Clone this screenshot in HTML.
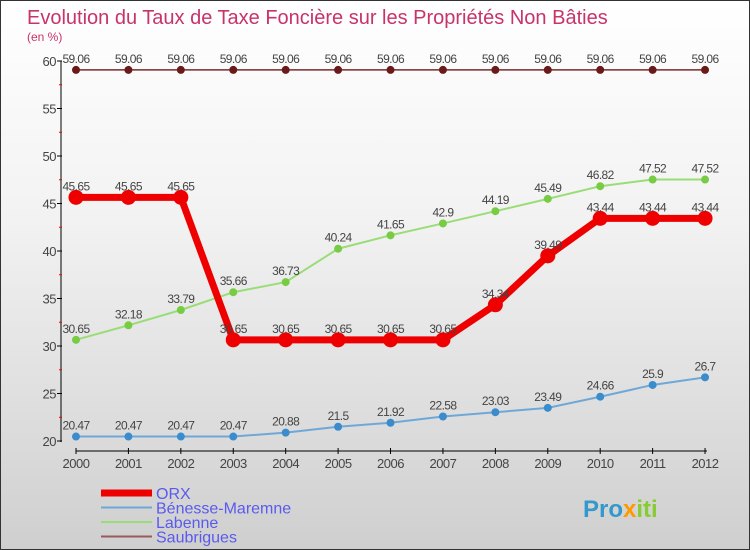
<!DOCTYPE html>
<html><head><meta charset="utf-8"><style>
body{margin:0}
#c{position:relative;width:748px;height:548px;border:1px solid #333;background:linear-gradient(#fff,#f2f2f2 40%,#cfcfcf);font-family:"Liberation Sans",sans-serif;overflow:hidden}
svg{position:absolute;left:0;top:0}
</style></head><body>
<div id="c">
<svg id="s" width="750" height="550"></svg>
</div>
<script>
const years=[2000,2001,2002,2003,2004,2005,2006,2007,2008,2009,2010,2011,2012];
const yTicks=[20,25,30,35,40,45,50,55,60];
const orx=[45.65,45.65,45.65,30.65,30.65,30.65,30.65,30.65,34.34,39.49,43.44,43.44,43.44];
const benesse=[20.47,20.47,20.47,20.47,20.88,21.5,21.92,22.58,23.03,23.49,24.66,25.9,26.7];
const labenne=[30.65,32.18,33.79,35.66,36.73,40.24,41.65,42.9,44.19,45.49,46.82,47.52,47.52];
const saubrigues=[59.06,59.06,59.06,59.06,59.06,59.06,59.06,59.06,59.06,59.06,59.06,59.06,59.06];
const X=i=>75+i*52.42, Y=v=>440-(v-20)*9.5;
const s=document.getElementById('s');const NS='http://www.w3.org/2000/svg';
function el(t,a,txt){const e=document.createElementNS(NS,t);for(const k in a)e.setAttribute(k,a[k]);if(txt!==undefined)e.textContent=txt;s.appendChild(e);return e;}
let e;
e=el('text',{x:26,y:23,'font-size':20,fill:'#c8336a'},'Evolution du Taux de Taxe Foncière sur les Propriétés Non Bâties');

e=el('text',{x:26,y:40,'font-size':12,fill:'#c8336a'},'(en %)');

e=el('line',{x1:60,y1:60,x2:60,y2:441,stroke:'#000'});

e=el('line',{x1:75,y1:450,x2:706,y2:450,stroke:'#000'});

yTicks.forEach(v=>{
 el('line',{x1:56,y1:Y(v),x2:61,y2:Y(v),stroke:'#000'});
 e=el('text',{x:55,y:Y(v)+5,'font-size':13,fill:'#444','text-anchor':'end','letter-spacing':'-0.5'},v);
 
 if(v<60){el('line',{x1:58,y1:Y(v+2.5),x2:61,y2:Y(v+2.5),stroke:'#e00'});}
});
years.forEach((y,i)=>{
 el('line',{x1:X(i),y1:447,x2:X(i),y2:453,stroke:'#000'});
 e=el('text',{x:X(i),y:467,'font-size':13,fill:'#444','text-anchor':'middle','letter-spacing':'-0.5'},y);
 
});
function series(d,col,w,r,name,dot){
 e=el('polyline',{points:d.map((v,i)=>X(i)+','+Y(v)).join(' '),fill:'none',stroke:col,'stroke-width':w});
 
 d.forEach((v,i)=>{
  e=el('circle',{cx:X(i),cy:Y(v),r:r,fill:dot});
  
  e=el('text',{x:X(i),y:Y(v)-7,'font-size':12,fill:'#444','text-anchor':'middle','letter-spacing':'-0.6'},String(v));
  
 });
}
series(saubrigues,'#7a2a2a',1.5,4,'saubrigues','#6b1a1a');
series(labenne,'#99dd77',2,4,'labenne','#77cc44');
series(benesse,'#6fa8d6',2,4,'benesse-maremne','#3a8ccc');
series(orx,'#ee0000',7,7.5,'orx','#ee0000');
const leg=[['ORX','#ee0000',7],['Bénesse-Maremne','#6fa8d6',2],['Labenne','#99dd77',2],['Saubrigues','#9a5a5a',2]];
leg.forEach((l,i)=>{
 const y=492+i*14.5;
 e=el('line',{x1:100,y1:y,x2:151,y2:y,stroke:l[1],'stroke-width':l[2]});
 
 e=el('text',{x:155,y:y+6,'font-size':16,fill:'#5a5aee'},l[0]);
 
});
e=el('text',{x:582,y:516,'font-size':24,'font-weight':'bold'});

e.innerHTML='<tspan fill="#3399cc">Pro</tspan><tspan fill="#ff9900">x</tspan><tspan fill="#88cc33">iti</tspan>';
</script>
</body></html>
